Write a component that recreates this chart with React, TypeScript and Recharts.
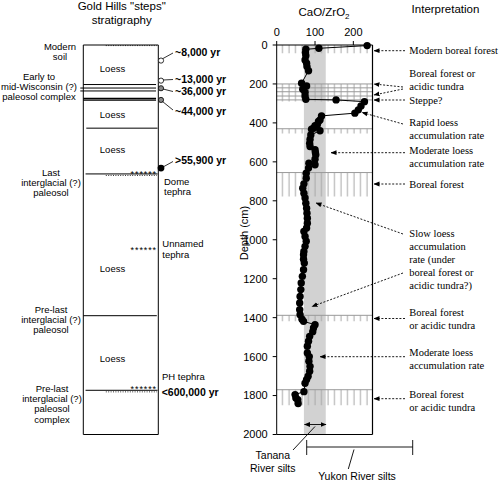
import React from 'react'
import {
  ScatterChart, Scatter, ComposedChart, XAxis, YAxis,
  ReferenceArea, ReferenceLine,
} from 'recharts'

const SANS = '"Liberation Sans", Arial, Helvetica, sans-serif'
const SERIF = '"Liberation Serif", "Times New Roman", serif'

// CaO/ZrO2 profile (depth in cm)
const depthCm = [
  3, 17, 22, 40, 55, 77, 94, 111, 132, 196, 210, 227, 242, 262, 279, 282, 291, 313, 333, 350,
  364, 385, 393, 410, 415, 427, 432, 440, 462, 485, 505, 521, 538, 552, 564, 587, 607, 615, 632, 658,
  684, 713, 735, 761, 786, 812, 838, 864, 889, 915, 940, 957, 983, 1008, 1034, 1060, 1077, 1100, 1120, 1154,
  1188, 1222, 1256, 1291, 1325, 1359, 1385, 1408, 1419, 1436, 1453, 1472, 1496, 1521, 1547, 1581, 1600, 1624, 1650, 1675,
  1701, 1718, 1737, 1780, 1795, 1812, 1821, 1841,
]
const caoZro2 = [
  236, 110, 76, 75, 76, 74, 78, 79, 83, 65, 78, 68, 74, 74, 76, 155, 229, 220, 213, 204,
  117, 113, 109, 106, 100, 96, 91, 113, 89, 87, 86, 87, 100, 101, 102, 100, 84, 100, 83, 77,
  77, 71, 68, 71, 74, 76, 78, 79, 80, 80, 78, 71, 74, 77, 74, 71, 70, 70, 72, 70,
  67, 64, 63, 61, 60, 60, 61, 66, 70, 100, 96, 94, 86, 83, 80, 80, 85, 84, 87, 86,
  82, 78, 74, 71, 48, 50, 55, 56,
]

const ratioTicks = [0, 100, 200]
const depthTicks = [0, 200, 400, 600, 800, 1000, 1200, 1400, 1600, 1800, 2000]
const tananaRange = [71, 128]
// soil horizons drawn as hatched bands [top, bottom]
const hatchBands = [[0, 42], [200, 290], [430, 455], [655, 778], [1388, 1419], [1770, 1850]]
const bandLines = [200, 220, 240, 262, 282, 430, 655, 1388, 1770]

// stratigraphic column: [depth, from, to, width]
const layerLines = [
  [203, 0, 97, 1], [221, -4, 97, 1], [236, -4, 97, 1], [275, 0, 97, 1.4], [283, 0, 97, 1.4],
  [427, 4, 99, 1], [662, 3, 99, 1], [1390, 0, 98, 1], [1773, 3, 99, 1],
]
const dottedLines = [[3, 30, 98], [670, 30, 98], [1781, 30, 98]]
const sampleDepth = [80, 183, 222, 282, 632]
const sampleKind = ['open', 'open', 'gray', 'gray', 'solid']
const sampleAge = ['~8,000 yr', '~13,000 yr', '~36,000 yr', '~44,000 yr', '>55,900 yr']

const profile = depthCm.map((d, i) => ({ d, v: caoZro2[i] }))
const samples = sampleDepth.map((d, i) => ({ d, x: 103.6, kind: sampleKind[i] }))

const ageLabels = [
  { y: 52, line: [163, 58.5, 173, 53] },
  { y: 79.5, line: [163, 80, 173, 79.5] },
  { y: 91, line: [163, 89, 173, 91.5] },
  { y: 111.5, line: [162.5, 101.5, 173, 110] },
  { y: 160, line: [163, 167, 173, 161.5] },
]

const leftLabels = [
  { x: 60, y: 46.7, t: ['Modern', 'soil'] },
  { x: 39, y: 76.5, t: ['Early to', 'mid-Wisconsin (?)', 'paleosol complex'] },
  { x: 51, y: 172.3, t: ['Last', 'interglacial (?)', 'paleosol'] },
  { x: 51, y: 309.3, t: ['Pre-last', 'interglacial (?)', 'paleosol'] },
  { x: 52, y: 388.3, t: ['Pre-last', 'interglacial (?)', 'paleosol', 'complex'] },
]
const loessY = [69, 114.5, 149.5, 268.3, 358.3]

const interp = [
  { y: 50.7, t: ['Modern boreal forest'], arrows: [[405, 50.7, 374, 50.7]] },
  { y: 73.5, t: ['Boreal forest or', 'acidic tundra'], arrows: [[403, 87, 374, 84], [403, 89, 374, 95]] },
  { y: 100, t: ['Steppe?'], arrows: [[405, 100, 374, 100]] },
  { y: 122.3, t: ['Rapid loess', 'accumulation rate'], arrows: [[403, 124, 362, 112.5]] },
  { y: 150, t: ['Moderate loess', 'accumulation rate'], arrows: [[405, 152.7, 331, 152.7]] },
  { y: 184, t: ['Boreal forest'], arrows: [[405, 184, 374, 184]] },
  { y: 233, t: ['Slow loess', 'accumulation', 'rate (under', 'boreal forest or', 'acidic tundra?)'], arrows: [[403, 234, 316, 203], [403, 273, 312, 306.5]] },
  { y: 312.7, t: ['Boreal forest', 'or acidic tundra'], arrows: [[405, 318.5, 374, 318.5]] },
  { y: 352.3, t: ['Moderate loess', 'accumulation rate'], arrows: [[405, 356.7, 320, 356.7]] },
  { y: 394, t: ['Boreal forest', 'or acidic tundra'], arrows: [[405, 398.7, 374, 398.7]] },
]

const Dot = (p: any) => <circle cx={p.cx} cy={p.cy} r={3.7} fill="#000" />
const SampleDot = (p: any) => {
  const k = p.payload?.kind
  if (k === 'solid') return <circle cx={p.cx} cy={p.cy} r={3.4} fill="#000" />
  return <circle cx={p.cx} cy={p.cy} r={2.6} fill={k === 'gray' ? '#888' : '#fff'} stroke="#000" strokeWidth={0.8} />
}

function Lines({ x, y, t, step, anchor, size, family, weight }: any) {
  return (
    <text x={x} fontSize={size} fontFamily={family} fontWeight={weight} textAnchor={anchor} fill="#000">
      {t.map((s: string, i: number) => (
        <tspan key={i} x={x} y={y + i * step + size * 0.35}>{s}</tspan>
      ))}
    </text>
  )
}

const tickStyle = { fill: '#000', fontSize: 11, fontFamily: SANS }

export default function App() {
  return (
    <div style={{ position: 'absolute', left: 0, top: 0, width: 500, height: 482, background: '#fff' }}>
      <div style={{ position: 'absolute', left: 0, top: 0 }}>
        <ScatterChart width={500} height={482} margin={{ top: 25, right: 127.5, bottom: 47.5, left: 236.7 }}>
          <defs>
            <pattern id="vhatch" patternUnits="userSpaceOnUse" width={6.5} height={10}>
              <line x1={3} y1={0} x2={3} y2={10} stroke="#a8a8a8" strokeWidth={1} />
            </pattern>
          </defs>
          <XAxis type="number" dataKey="v" orientation="top" domain={[0, 250]} ticks={ratioTicks}
            tickSize={4} tickMargin={5} height={20} axisLine={{ stroke: '#000' }}
            tickLine={{ stroke: '#000' }} tick={tickStyle} />
          <YAxis type="number" dataKey="d" reversed domain={[0, 2000]} ticks={depthTicks}
            tickSize={4} tickMargin={5} width={40} axisLine={{ stroke: '#000' }}
            tickLine={{ stroke: '#000' }} tick={tickStyle} />
          <ReferenceArea x1={tananaRange[0]} x2={tananaRange[1]} y1={0} y2={2000}
            fill="#d2d2d2" fillOpacity={1} stroke="none" />
          {hatchBands.map(([a, b], i) => (
            <ReferenceArea key={'h' + i} x1={0} x2={250} y1={a} y2={b}
              fill="url(#vhatch)" fillOpacity={1} stroke="none" />
          ))}
          {bandLines.map((d) => (
            <ReferenceLine key={'l' + d} y={d} stroke="#9a9a9a" strokeWidth={1} />
          ))}
          <ReferenceLine x={250} stroke="#000" strokeWidth={1.2} />
          <ReferenceLine y={2000} stroke="#000" strokeWidth={1.2} />
          <Scatter data={profile} line={{ stroke: '#000', strokeWidth: 1 }} lineType="joint"
            shape={Dot} isAnimationActive={false} />
        </ScatterChart>
      </div>

      <div style={{ position: 'absolute', left: 0, top: 0 }}>
        <ComposedChart width={500} height={482} margin={{ top: 45, right: 326.7, bottom: 47.5, left: 83.3 }}>
          <XAxis type="number" dataKey="x" domain={[0, 120]} hide />
          <YAxis type="number" dataKey="d" reversed domain={[0, 2000]} hide />
          <ReferenceArea x1={0} x2={100} y1={0} y2={2000} fill="none" stroke="#000" strokeWidth={1} />
          {layerLines.map(([d, a, b, w], i) => (
            <ReferenceLine key={'s' + i} segment={[{ x: a, y: d }, { x: b, y: d }]}
              stroke="#000" strokeWidth={w} ifOverflow="visible" />
          ))}
          {dottedLines.map(([d, a, b], i) => (
            <ReferenceLine key={'dt' + i} segment={[{ x: a, y: d }, { x: b, y: d }]}
              stroke="#000" strokeWidth={0.8} strokeDasharray="1 1.4" />
          ))}
          <Scatter data={samples} shape={SampleDot} isAnimationActive={false} />
        </ComposedChart>
      </div>

      <svg width={500} height={482} style={{ position: 'absolute', left: 0, top: 0, pointerEvents: 'none' }}>
        <defs>
          <marker id="ah" markerWidth={6} markerHeight={6} refX={5.5} refY={3} orient="auto-start-reverse" markerUnits="userSpaceOnUse">
            <path d="M0,0.6 L6,3 L0,5.4 z" fill="#000" />
          </marker>
        </defs>

        <Lines x={121.7} y={6} t={['Gold Hills "steps"', 'stratigraphy']} step={14} anchor="middle" size={11.5} family={SANS} />
        <text x={324} y={16} textAnchor="middle" fontSize={11.5} fontFamily={SANS}>
          CaO/ZrO<tspan dy={3} fontSize={8}>2</tspan>
        </text>
        <text x={445.5} y={12.5} textAnchor="middle" fontSize={11.5} fontFamily={SANS}>Interpretation</text>
        <text transform="translate(248,233) rotate(-90)" textAnchor="middle" fontSize={11} fontFamily={SANS}>Depth (cm)</text>

        {leftLabels.map((l, i) => (
          <Lines key={'ll' + i} x={l.x} y={l.y} t={l.t} step={10.3} anchor="middle" size={9.5} family={SANS} />
        ))}
        {loessY.map((y, i) => (
          <Lines key={'lo' + i} x={112.5} y={y} t={['Loess']} step={10} anchor="middle" size={9.5} family={SANS} />
        ))}
        <Lines x={164} y={181.7} t={['Dome', 'tephra']} step={10.2} anchor="start" size={9.5} family={SANS} />
        <Lines x={162.3} y={244} t={['Unnamed', 'tephra']} step={10.2} anchor="start" size={9.5} family={SANS} />
        <Lines x={162} y={376.7} t={['PH tephra']} step={10} anchor="start" size={9.5} family={SANS} />
        <Lines x={161.7} y={392.7} t={['<600,000 yr']} step={10} anchor="start" size={10.5} family={SANS} weight="bold" />
        {[176.5, 253, 392.4].map((y, i) => (
          <text key={'st' + i} x={157} y={y} textAnchor="end" fontSize={9} fontFamily={SANS} letterSpacing={0.9}>******</text>
        ))}

        {ageLabels.map((a, i) => (
          <g key={'ag' + i}>
            <line x1={a.line[0]} y1={a.line[1]} x2={a.line[2]} y2={a.line[3]} stroke="#000" strokeWidth={0.8} />
            <Lines x={175} y={a.y} t={[sampleAge[i]]} step={10} anchor="start" size={10.5} family={SANS} weight="bold" />
          </g>
        ))}

        {interp.map((it, i) => (
          <g key={'in' + i}>
            <Lines x={409.3} y={it.y} t={it.t} step={13} anchor="start" size={10.5} family={SERIF} />
            {it.arrows.map((a, j) => (
              <line key={j} x1={a[0]} y1={a[1]} x2={a[2]} y2={a[3]} stroke="#000" strokeWidth={0.9}
                strokeDasharray="2 1.6" markerEnd="url(#ah)" />
            ))}
          </g>
        ))}

        {/* silt source brackets */}
        <line x1={304.5} y1={424.5} x2={326} y2={424.5} stroke="#000" strokeWidth={0.9}
          markerStart="url(#ah)" markerEnd="url(#ah)" />
        <line x1={315} y1={426.5} x2={293} y2={450} stroke="#000" strokeWidth={0.9} />
        <Lines x={272.8} y={455} t={['Tanana', 'River silts']} step={13} anchor="middle" size={10.5} family={SANS} />
        <line x1={306.7} y1={447} x2={412.7} y2={447} stroke="#000" strokeWidth={0.9} />
        <line x1={306.7} y1={440} x2={306.7} y2={455} stroke="#000" strokeWidth={0.9} />
        <line x1={412.7} y1={440} x2={412.7} y2={455} stroke="#000" strokeWidth={0.9} />
        <line x1={354} y1={449.5} x2={348.3} y2={469} stroke="#000" strokeWidth={0.9} />
        <Lines x={357} y={476.5} t={['Yukon River silts']} step={13} anchor="middle" size={10.5} family={SANS} />
      </svg>
    </div>
  )
}
